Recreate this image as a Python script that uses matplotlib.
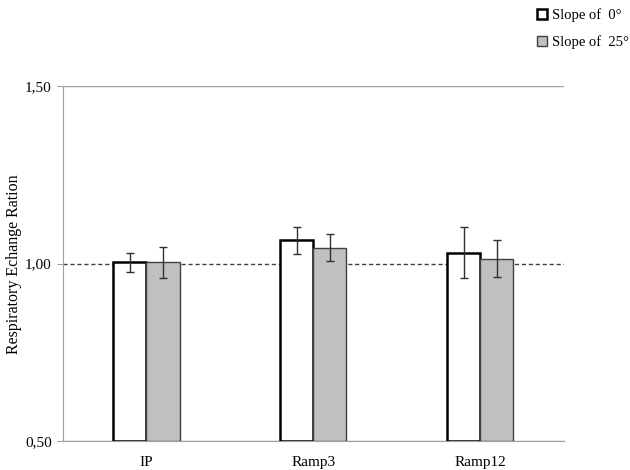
import matplotlib
matplotlib.use("Agg")
import matplotlib.pyplot as plt
import numpy as np
from matplotlib.patches import Patch

categories = ["IP", "Ramp3", "Ramp12"]
slope0 = [1.003, 1.065, 1.031]
slope0_err = [0.027, 0.037, 0.072]
slope25 = [1.003, 1.045, 1.014]
slope25_err = [0.044, 0.038, 0.053]
yticks = [0.50, 1.00, 1.50]
ytick_labels = ["0,50", "1,00", "1,50"]

plt.rcParams['font.family'] = ['Liberation Serif', 'DejaVu Serif']

fig = plt.figure(figsize=(6.3, 4.7), dpi=100)
ax = fig.add_axes([0.1, 0.0617, 0.795, 0.7553])

x = np.arange(len(categories))
w = 0.198
ax.bar(x - w/2, np.array(slope0) - 0.5, bottom=0.5, width=w, color="white",
       edgecolor="black", linewidth=1.8, zorder=3)
ax.bar(x + w/2, np.array(slope25) - 0.5, bottom=0.5, width=w, color="#c0c0c0",
       edgecolor="#404040", linewidth=1.0, zorder=3)
ax.errorbar(x - w/2, slope0, yerr=slope0_err, fmt="none", ecolor="#303030",
            elinewidth=1.0, capsize=3, capthick=1.0, zorder=4)
ax.errorbar(x + w/2, slope25, yerr=slope25_err, fmt="none", ecolor="#303030",
            elinewidth=1.0, capsize=3, capthick=1.0, zorder=4)

ax.set_xlim(-0.5, 2.5)
ax.set_ylim(0.5, 1.5)
ax.set_yticks(yticks)
ax.set_yticklabels(ytick_labels, fontsize=11)
ax.set_xticks(x)
ax.set_xticklabels(categories, fontsize=11)
ax.tick_params(axis="x", length=0, pad=11)
ax.tick_params(axis="y", length=4, color="#a0a0a0", pad=4)

for y in [0.5, 1.5]:
    ax.axhline(y, color="#a0a0a0", linewidth=1.0, zorder=1)
ax.axhline(1.0, color="#404040", linewidth=1.0, linestyle=(0, (3, 2)), zorder=2)

for s in ["top", "right"]:
    ax.spines[s].set_visible(False)
ax.spines["left"].set_color("#a0a0a0")
ax.spines["bottom"].set_color("#a0a0a0")

fig.text(14 / 630, 1 - 264 / 470, "Respiratory Echange Ration", fontsize=11.5,
         rotation=90, ha="center", va="center")

handles = [Patch(facecolor="white", edgecolor="black", linewidth=1.8),
           Patch(facecolor="#c0c0c0", edgecolor="#404040", linewidth=1.0)]
fig.legend(handles, ["Slope of  0°", "Slope of  25°"], loc="upper left",
           bbox_to_anchor=(0.832, 1.01), frameon=False, fontsize=10.5,
           handlelength=0.7, handleheight=0.7, handletextpad=0.3,
           labelspacing=0.9)

fig.savefig("out.png", dpi=100)
